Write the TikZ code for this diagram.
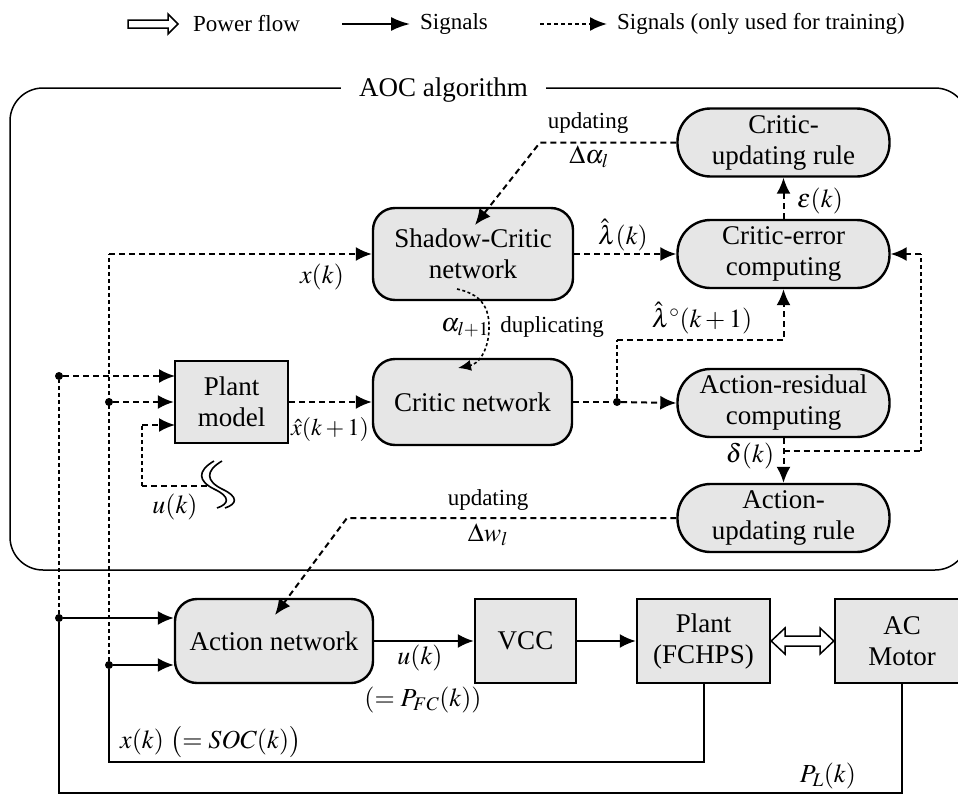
\documentclass[tikz,border=0pt]{standalone}
\usepackage{mathptmx}
\usepackage{fontspec}
\setmainfont{Liberation Serif}
\usetikzlibrary{arrows.meta}
\definecolor{boxgray}{RGB}{230,230,230}
\tikzset{
  blk/.style={draw, line width=2.4pt, fill=boxgray, inner sep=0pt, align=center,
    font=\fontsize{27}{31}\selectfont},
  rblk/.style={blk, rounded corners=22pt},
  capbox/.style={blk, rounded corners=33pt, minimum width=212pt, minimum height=68pt},
  sig/.style={line width=2pt, -{Latex[length=16pt,width=14pt]}},
  sigline/.style={line width=2pt},
  train/.style={line width=2pt, dash pattern=on 6pt off 4pt, -{Latex[length=16pt,width=14pt]}},
  trainline/.style={line width=2pt, dash pattern=on 6pt off 4pt},
  vdash/.style={line width=2pt, dash pattern=on 4pt off 3pt},
  finedash/.style={line width=1.6pt, dash pattern=on 3pt off 2.5pt, -{Latex[length=13pt,width=11pt]}},
  lab/.style={font=\fontsize{26}{30}\selectfont, inner sep=0pt},
  slab/.style={font=\fontsize{23}{27}\selectfont, inner sep=0pt},
  leg/.style={font=\fontsize{23}{27}\selectfont, inner sep=0pt, anchor=west},
  jdot/.style={circle, fill=black, inner sep=0pt, minimum size=8pt},
}
\begin{document}
\begin{tikzpicture}[x=1pt,y=-1pt]
\clip (0,0) rectangle (958,795);
\fill[white] (0,0) rectangle (958,795);

% ---------- legend ----------
\draw[line width=1.5pt] (128,20) -- (168,20) -- (168,14) -- (178,24) -- (168,34) -- (168,28) -- (128,28) -- cycle;
\node[leg] (l1) at (193,24) {Power flow};
\coordinate (l2a) at (342,24);
\coordinate (l2b) at (410,24);
\draw[line width=2pt, -{Latex[length=19pt,width=14pt]}] (l2a) -- (l2b);
\node[leg] (l2) at (420,24) {Signals};
\coordinate (l3a) at (540,24);
\coordinate (l3b) at (607,24);
\draw[line width=2pt, dash pattern=on 4pt off 3pt, -{Latex[length=17pt,width=14pt]}] (l3a) -- (l3b);
\node[leg] (l3) at (617,24) {Signals (only used for training)};

% ---------- AOC frame ----------
\draw[line width=1.5pt, rounded corners=33pt] (10,88) rectangle (968,570);
\node[fill=white, inner xsep=18pt, inner ysep=2pt, font=\fontsize{27}{31}\selectfont] (aoc) at (443.5,90) {AOC algorithm};

% ---------- blocks ----------
\node[rblk, minimum width=200pt, minimum height=92pt] (shadow) at (473,254) {Shadow-Critic\\network};
\node[rblk, minimum width=199pt, minimum height=86pt] (critic) at (472.5,402) {Critic network};
\node[blk, minimum width=113pt, minimum height=82pt] (plantm) at (231.5,402) {Plant\\model};
\node[capbox] (cur) at (783.5,142.5) {Critic-\\updating rule};
\node[capbox] (cerr) at (783.5,254) {Critic-error\\computing};
\node[capbox] (ares) at (783.5,403) {Action-residual\\computing};
\node[capbox] (aupd) at (783.5,518) {Action-\\updating rule};
\node[rblk, minimum width=198pt, minimum height=84pt] (actn) at (274,641) {Action network};
\node[blk, minimum width=101pt, minimum height=84pt] (vcc) at (525.5,641) {VCC};
\node[blk, minimum width=133pt, minimum height=84pt] (plant) at (703.5,641) {Plant\\(FCHPS)};
\node[blk, minimum width=134pt, minimum height=84pt] (acm) at (902,641) {AC\\Motor};

% ---------- helper points ----------
\node[jdot] (dA) at (617,402) {};
\node[jdot] (dX1) at (109,402) {};
\node[jdot] (dX2) at (109,665) {};
\node[jdot] (dP1) at (59,376) {};
\node[jdot] (dP2) at (59,618) {};
\coordinate (xtop) at (109,254);
\coordinate (scin) at (475,225);
\coordinate (anin) at (275,615);
\coordinate (br) at (783.5,451);
\coordinate (brR) at (921,451);
\coordinate (sq) at (207,486);
\coordinate (dupS) at (457,289);
\coordinate (dupE) at (458,368);

% ---------- training signals ----------
\draw[train] (cur.west) -- (540,142.5) -- (scin);
\node[slab] (t1) at (588,123) {updating};
\node[lab] (t2) at (589,157) {$\Delta\alpha_l$};

\draw[train] (shadow.east) -- (cerr.west);
\node[lab] (t3) at (623,235) {$\hat{\lambda}(k)$};

\draw[train] (cerr.north) -- (cur.south);
\node[lab] (t4) at (820,201) {$\varepsilon(k)$};

\draw[trainline] (critic.east) -- (dA);
\draw[train] (dA) -- (ares.west);
\draw[vdash] (dA) -- (617,340);
\draw[train] (617,340) -| (cerr.south);
\node[lab] (t5) at (702,318) {$\hat{\lambda}^{\circ}(k+1)$};

\draw[train] (ares.south) -- (aupd.north);
\draw[trainline] (br) -- (brR);
\draw[vdash] (brR) -- (921,254);
\draw[train] (921,254) -- (cerr.east);
\node[lab] (t6) at (750,456) {$\delta(k)$};

\draw[train] (aupd.west) -- (347,518) -- (anin);
\node[slab] (t7) at (488,500) {updating};
\node[lab] (t8) at (488,535) {$\Delta w_l$};

\draw[finedash] (dupS) .. controls (480,294) and (490,306) .. (489,330) .. controls (488,352) and (478,364) .. (dupE);
\node[lab] (t9) at (465,328) {$\alpha_{l+1}$};
\node[slab] (t10) at (552,327) {duplicating};

\draw[vdash] (dX2) -- (xtop);
\draw[train] (xtop) -- (shadow.west);
\node[lab] (t11) at (322,277) {$x(k)$};
\draw[train] (dX1) -- (plantm.west);
\draw[vdash] (dP2) -- (dP1);
\draw[train] (dP1) -- (175,376);
\draw[trainline] (sq) -- (142,486);
\draw[vdash] (142,486) -- (142,425);
\draw[train] (142,425) -- (175,425);
\draw[line width=1.6pt] (214,461) .. controls (197,471) and (198,481) .. (214,489) .. controls (231,497) and (229,504) .. (217,508);
\draw[line width=1.6pt] (222,461) .. controls (205,471) and (206,481) .. (222,489) .. controls (239,497) and (237,504) .. (225,508);
\node[lab] (t12) at (175,507) {$u(k)$};

\draw[train] (plantm.east) -- (critic.west);
\node[lab, font=\fontsize{24}{28}\selectfont] (t13) at (330,429) {$\hat{x}(k+1)$};

% ---------- real signals ----------
\draw[sig] (dX2) -- (actn.west |- dX2);
\draw[sig] (dP2) -- (actn.west |- dP2);
\draw[sigline] (plant.south) -- (703.5,762) -| (dX2);
\node[lab, anchor=west] (t14) at (120,742) {$x(k)\ \bigl(=SOC(k)\bigr)$};
\draw[sigline] (acm.south) -- (902,793) -| (dP2);
\node[lab] (t15) at (828,776) {$P_L(k)$};

\draw[sig] (actn.east) -- (vcc.west);
\node[lab] (t16) at (420,658) {$u(k)$};
\node[lab] (t17) at (423,700) {$(=P_{FC}(k))$};
\draw[sig] (vcc.east) -- (plant.west);

% power flow double arrow
\draw[line width=1.5pt, fill=white] (plant.east) -- (785,628) -- (785,636) -- (820,636) -- (820,628) -- (acm.west) -- (820,654) -- (820,646) -- (785,646) -- (785,654) -- cycle;
\end{tikzpicture}
\end{document}
